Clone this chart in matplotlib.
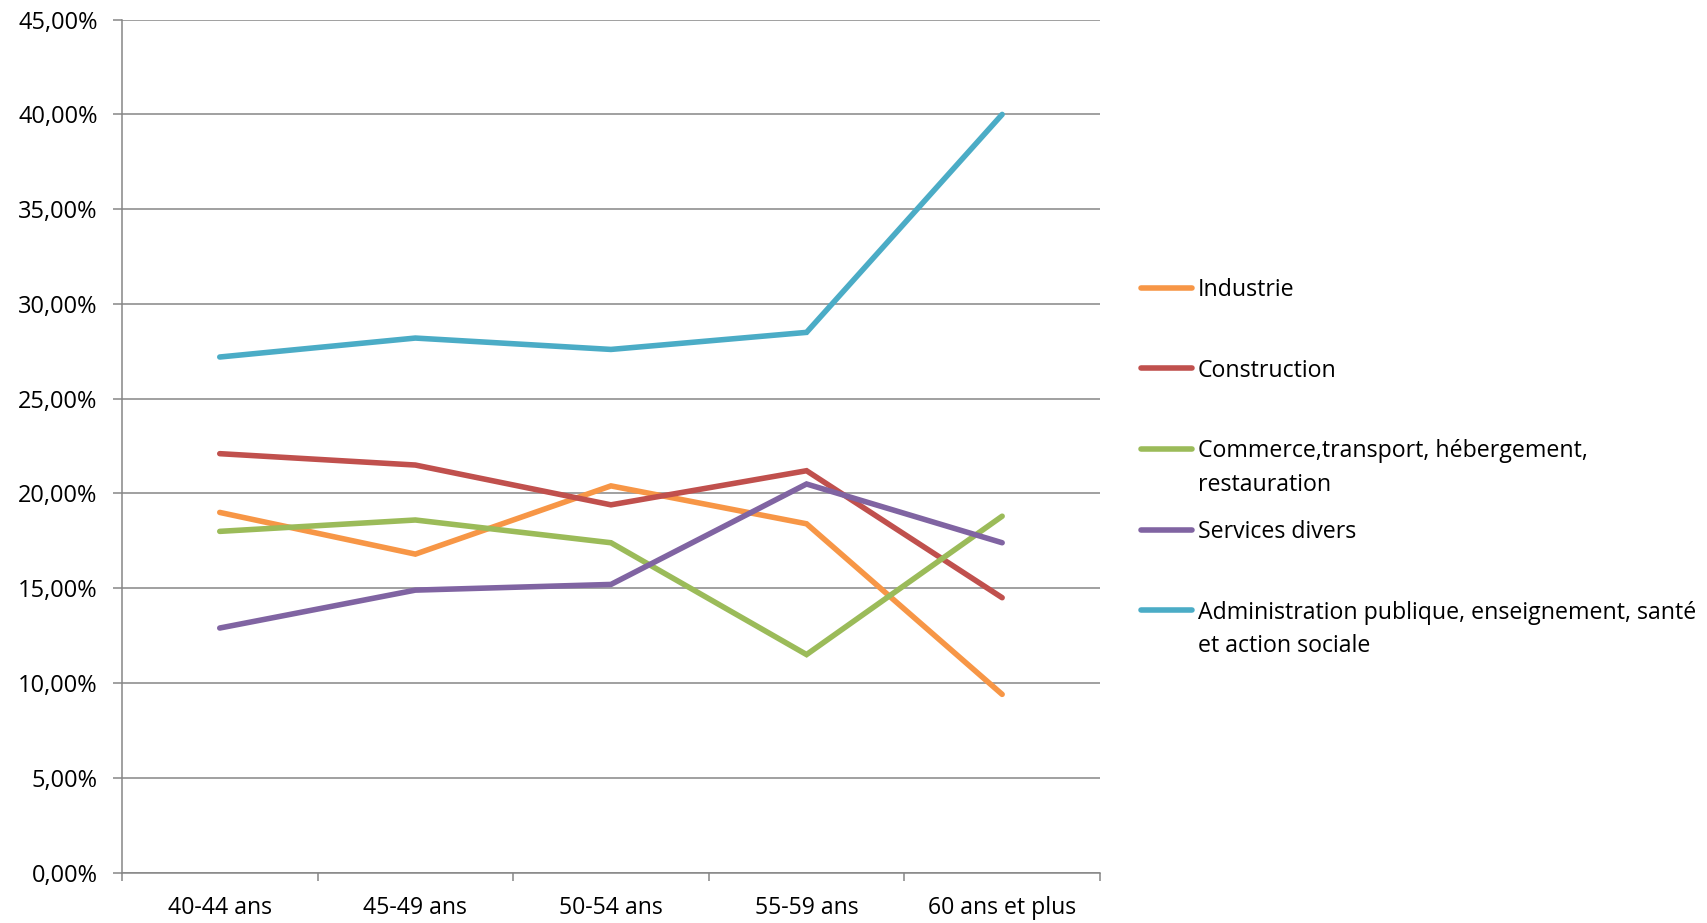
import numpy as np
import matplotlib
matplotlib.use('Agg')
import matplotlib.pyplot as plt
from matplotlib.ticker import FuncFormatter, FixedLocator
from matplotlib.lines import Line2D

# Données (en %)
categories = ['40-44 ans', '45-49 ans', '50-54 ans', '55-59 ans', '60 ans et plus']
industrie = [19.0, 16.8, 20.4, 18.4, 9.4]
construction = [22.1, 21.5, 19.4, 21.2, 14.5]
commerce = [18.0, 18.6, 17.4, 11.5, 18.8]
services = [12.9, 14.9, 15.2, 20.5, 17.4]
administration = [27.2, 28.2, 27.6, 28.5, 40.0]

series_labels = ['Industrie', 'Construction', 'Commerce,transport, hébergement,\nrestauration',
                 'Services divers', 'Administration publique, enseignement, santé\net action sociale']
series_values = [industrie, construction, commerce, services, administration]
colors = ['#F79646', '#C0504D', '#9BBB59', '#8064A2', '#4BACC6']

plt.rcParams['font.family'] = ['Open Sans', 'DejaVu Sans']

fig = plt.figure(figsize=(17.08, 9.23), dpi=100)
ax = fig.add_axes([0.0714, 0.0547, 0.5726, 0.924])

x = np.arange(len(categories)) + 0.5
for vals, col in zip(series_values, colors):
    ax.plot(x, vals, color=col, linewidth=4.0, solid_capstyle='round', solid_joinstyle='miter')

grid_col = '#868686'
ax.set_xlim(0, len(categories))
ax.set_ylim(0, 45)
ax.set_yticks(np.arange(0, 46, 5))
ax.yaxis.set_major_formatter(FuncFormatter(lambda v, p: f'{v:.2f}'.replace('.', ',') + '%'))
ax.grid(axis='y', color=grid_col, linewidth=1.1)
ax.set_axisbelow(True)

ax.set_xticks(x)
ax.set_xticklabels(categories)
ax.xaxis.set_minor_locator(FixedLocator(np.arange(0, len(categories) + 1)))
ax.tick_params(axis='x', which='major', length=0, pad=17, labelsize=16.6)
ax.tick_params(axis='x', which='minor', length=6, width=1.1, color=grid_col, direction='out')
ax.tick_params(axis='y', length=6.5, width=1.1, color=grid_col, pad=11, labelsize=17)

for s in ['top', 'right']:
    ax.spines[s].set_visible(False)
for s in ['left', 'bottom']:
    ax.spines[s].set_color(grid_col)
    ax.spines[s].set_linewidth(1.1)

# Légende à la manière d'Excel
y0 = 1 - 287.7 / 923
dy = 80.6 / 923
for i, (lab, col) in enumerate(zip(series_labels, colors)):
    yy = y0 - i * dy
    fig.add_artist(Line2D([1141 / 1708, 1192 / 1708], [yy, yy], color=col, linewidth=4.0,
                          solid_capstyle='round', transform=fig.transFigure))
    fig.text(1198 / 1708, yy + 9.5 / 923, lab, fontsize=16.7, ha='left', va='top',
             transform=fig.transFigure, linespacing=1.55)

fig.savefig('out.png', dpi=100)
